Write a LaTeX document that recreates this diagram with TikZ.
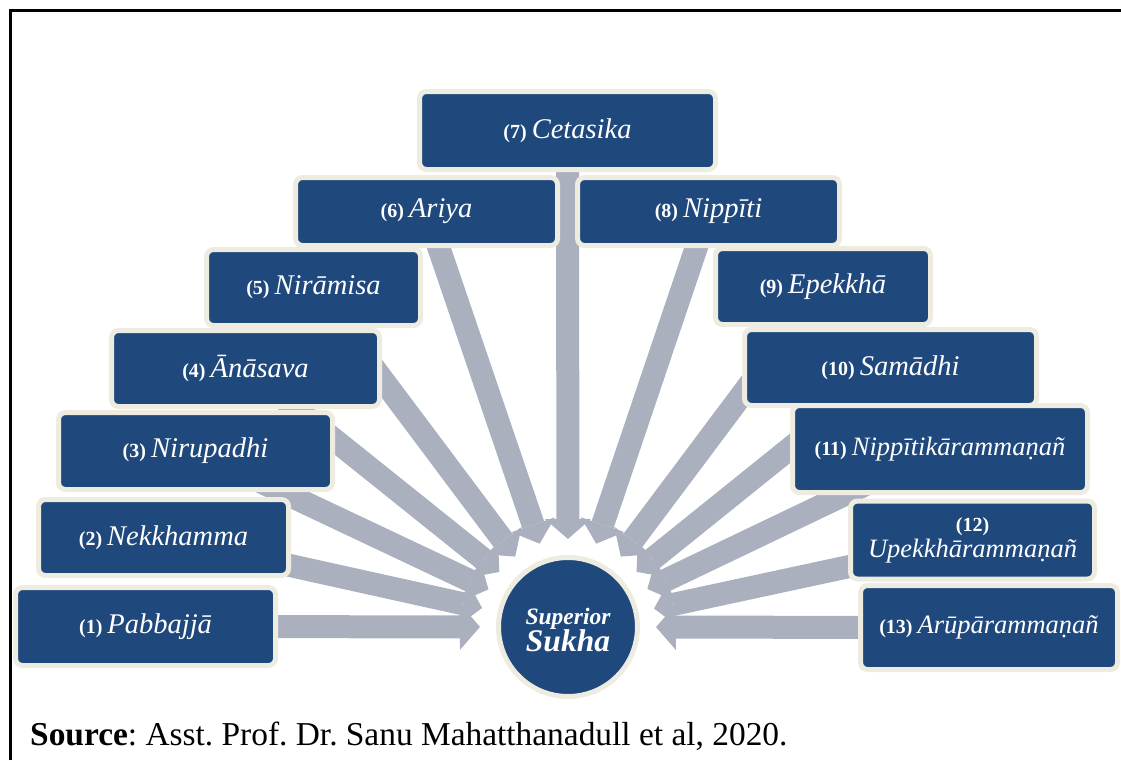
\documentclass[tikz,border=0pt]{standalone}
\usepackage{fontspec}
\setmainfont{Liberation Serif}
\frenchspacing
\usetikzlibrary{arrows.meta,calc,backgrounds}
\definecolor{boxblue}{HTML}{1F497D}
\definecolor{cream}{HTML}{EEECE1}
\definecolor{arrgray}{HTML}{ABB0BF}
\newcommand\nm[1]{{\upshape\bfseries\fontsize{20}{22}\selectfont(#1) }}
\tikzset{
  item/.style={draw=cream, line width=5pt, fill=boxblue, rounded corners=7pt,
    text=white, align=center, inner sep=0pt,
    font=\fontsize{28.5}{26}\selectfont\itshape},
  itemsm/.style={item, font=\fontsize{26.5}{26}\selectfont\itshape},
  hub/.style={circle, draw=cream, line width=5pt, fill=boxblue,
    inner sep=0pt, minimum size=139pt},
  hubtext/.style={text=white, align=center, inner sep=0pt, font=\bfseries\itshape},
  arr/.style={draw=arrgray, line width=23pt,
    -{Triangle[length=20pt,width=46pt,line width=0pt]}},
  frameline/.style={line width=2.5pt, black}
}
\begin{document}
\begin{tikzpicture}[x=1pt,y=-1pt]
\useasboundingbox (0,0) rectangle (1121,760);
\draw[frameline] (10.5,760) -- (10.5,10.5) -- (1121,10.5);

\node[item, minimum width=260pt, minimum height=78pt] (b1) at (145.5,626.5) {\nm{1}Pabbajjā};
\node[item, minimum width=250pt, minimum height=76pt] (b2) at (163.5,537.5) {\nm{2}Nekkhamma};
\node[item, minimum width=274pt, minimum height=77pt] (b3) at (195.5,451) {\nm{3}Nirupadhi};
\node[item, minimum width=268pt, minimum height=76pt] (b4) at (245.5,368.5) {\nm{4}Ānāsava};
\node[item, minimum width=214pt, minimum height=76pt] (b5) at (313.5,287.5) {\nm{5}Nirāmisa};
\node[item, minimum width=262pt, minimum height=68pt] (b6) at (426.5,211.5) {\nm{6}Ariya};
\node[item, minimum width=296pt, minimum height=78pt] (b7) at (567.5,130.5) {\nm{7}Cetasika};
\node[item, minimum width=262pt, minimum height=68pt] (b8) at (708.5,211.5) {\nm{8}Nippīti};
\node[item, minimum width=215pt, minimum height=76pt] (b9) at (823,286.5) {\nm{9}Epekkhā};
\node[item, minimum width=292pt, minimum height=76pt] (b10) at (890.5,367.5) {\nm{10}Samādhi};
\node[itemsm, minimum width=295pt, minimum height=87pt] (b11) at (940,449) {\nm{11}Nippītikārammaṇañ};
\node[itemsm, minimum width=244pt, minimum height=78pt] (b12) at (972.5,540) {{\upshape\bfseries\fontsize{20}{22}\selectfont(12)}\\Upekkhārammaṇañ};
\node[itemsm, minimum width=257pt, minimum height=84pt] (b13) at (989,627.5) {\nm{13}Arūpārammaṇañ};

\node[hub] (c) at (568,627) {};
\node[hubtext] (ct) at ([yshift=-3pt]c.center) {\fontsize{23.5}{32}\selectfont Superior\\\fontsize{31.5}{32}\selectfont Sukha};

\begin{scope}[on background layer]
\foreach \b in {b1,b2,b3,b4,b5,b6,b7,b8,b9,b10,b11,b12,b13}
  \draw[arr] (\b.center) -- ($(c.center)!88pt!(\b.center)$);
\end{scope}

\node[anchor=base west, inner sep=0pt, font=\fontsize{33.4}{36}\selectfont] (src) at (30,745)
  {\textbf{Source}: Asst. Prof. Dr. Sanu Mahatthanadull et al, 2020.};
\end{tikzpicture}
\end{document}
